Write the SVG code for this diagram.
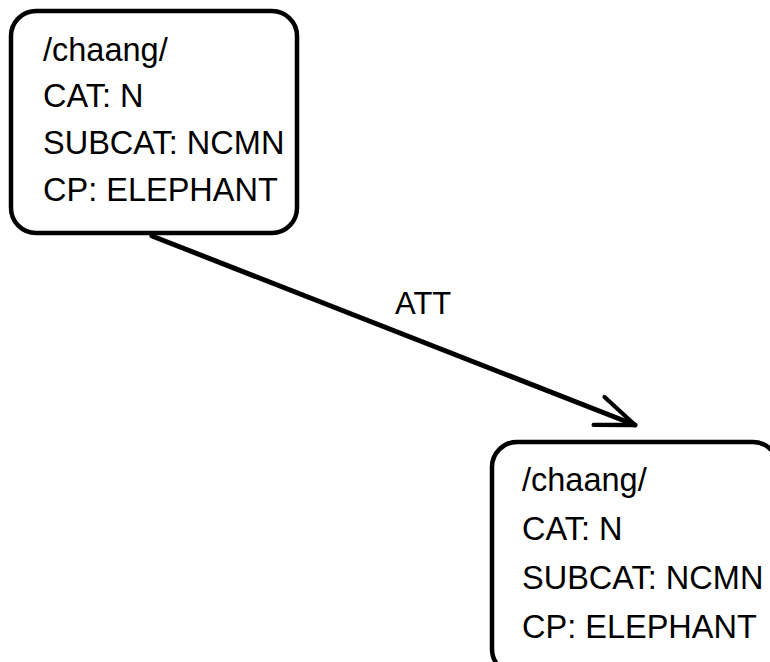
<svg xmlns="http://www.w3.org/2000/svg" width="770" height="662" viewBox="0 0 770 662">
<style>
.box{fill:#fff;stroke:#000;stroke-width:4.5}
.t{font-family:"Liberation Sans",Arial,Helvetica,sans-serif;font-size:32.5px;fill:#000}
.lbl{font-family:"Liberation Sans",Arial,Helvetica,sans-serif;font-size:31px;fill:#000}
.edge{fill:none;stroke:#000;stroke-width:5;stroke-linecap:round;stroke-linejoin:round}
</style>
<defs>
<marker id="arr" markerUnits="userSpaceOnUse" orient="auto" refX="0" refY="0" markerWidth="60" markerHeight="60" viewBox="-60 -30 70 60" overflow="visible">
<path d="M-45,-17.5 L0,0 L-45,17.5" fill="none" stroke="#000" stroke-width="5" stroke-linecap="round" stroke-linejoin="round"/>
</marker>
</defs>
<rect width="770" height="662" fill="#fff"/>
<g id="connectors">
<line class="edge" x1="152" y1="236" x2="635" y2="425" marker-end="url(#arr)"/>
<text class="lbl" x="395" y="314">ATT</text>
</g>
<g id="node1">
<rect class="box" x="11" y="11" width="286" height="222" rx="25" ry="25"/>
<text class="t" x="43" y="61">/chaang/</text>
<text class="t" x="43" y="107">CAT: N</text>
<text class="t" x="43" y="154">SUBCAT: NCMN</text>
<text class="t" x="43" y="201">CP: ELEPHANT</text>
</g>
<g id="node2">
<rect class="box" x="492" y="442" width="286" height="232" rx="25" ry="25"/>
<text class="t" x="522" y="491">/chaang/</text>
<text class="t" x="522" y="540">CAT: N</text>
<text class="t" x="522" y="589">SUBCAT: NCMN</text>
<text class="t" x="522" y="638">CP: ELEPHANT</text>
</g>
</svg>
